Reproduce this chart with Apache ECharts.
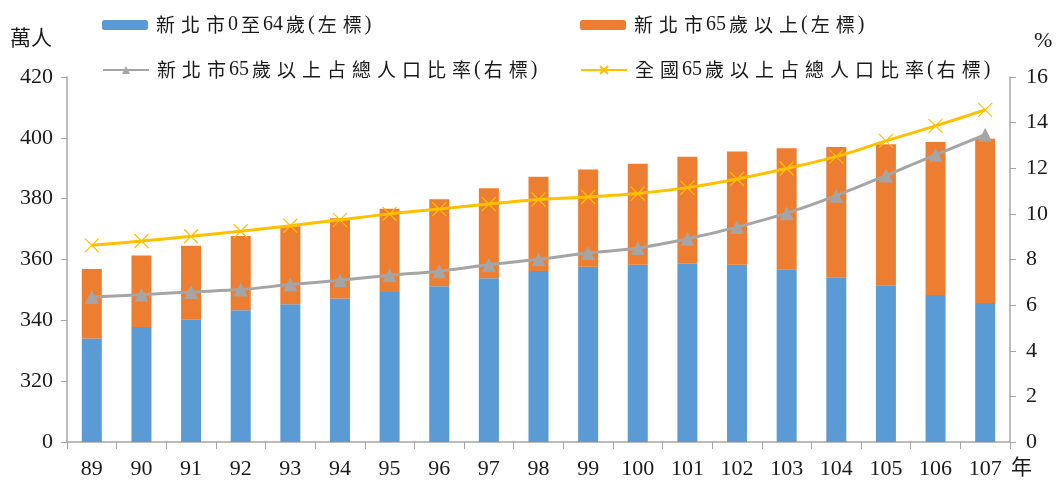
<!DOCTYPE html>
<html><head><meta charset="utf-8">
<script src="https://cdn.jsdelivr.net/npm/echarts@6/dist/echarts.min.js"></script>
<style>html,body{margin:0;padding:0;background:#fff}#c{width:1061px;height:483px}</style>
</head><body><div id="c"></div>
<script>
const years = ['89','90','91','92','93','94','95','96','97','98','99','100','101','102','103','104','105','106','107'];
const age0to64 = [334.0,337.8,340.2,343.3,345.3,347.2,349.3,351.2,353.8,356.2,357.6,358.3,358.6,358.3,356.8,354.2,351.5,348.3,345.7];
const age65plus = [22.9,23.5,24.3,24.4,25.6,26.4,27.4,28.6,29.6,31.0,32.0,33.2,35.2,37.2,39.8,42.8,46.4,50.3,54.0];
const ntpRatio = [6.36,6.46,6.58,6.68,6.90,7.09,7.31,7.49,7.77,8.01,8.28,8.50,8.91,9.42,10.03,10.80,11.68,12.59,13.47];
const nationRatio = [8.62,8.81,9.02,9.24,9.48,9.74,10.00,10.21,10.43,10.63,10.74,10.89,11.15,11.53,11.99,12.51,13.20,13.86,14.56];
const leftTicks = {min:300, max:420, interval:20};
const rightTicks = {min:0, max:16, interval:2};

const FONT = "'Liberation Serif','Noto Sans CJK TC',serif";
const TXT = '#1a1a1a';
const AX = '#a6a6a6';
const xPath = 'path://M0,0 L10,10 M10,0 L0,10';
const names = ['新北市0至64歲(左標)','新北市65歲以上(左標)','新北市65歲以上占總人口比率(右標)','全國65歲以上占總人口比率(右標)'];
const spaced = s => s.split('').map(ch => /[\u3400-\u9fff]/.test(ch) ? '{c|'+ch+'}' : '{d|'+ch+'}').join('');
const legendBase = {itemWidth:46, itemHeight:10, itemGap:0, formatter:spaced,
  textStyle:{fontFamily:FONT, fontSize:20, color:TXT,
    rich:{c:{fontFamily:"'Noto Sans CJK TC'", fontSize:19, color:TXT, padding:[0,3,0,3]},
          d:{fontFamily:"'Liberation Serif'", fontSize:20, color:TXT}}}};
const chart = echarts.init(document.getElementById('c'));
chart.setOption({
  animation:false,
  textStyle:{fontFamily:FONT},
  legend:[
    Object.assign({}, legendBase, {left:97, top:10, data:[names[0]]}),
    Object.assign({}, legendBase, {left:575, top:10, data:[names[1]]}),
    Object.assign({}, legendBase, {left:97, top:55, data:[names[2]]}),
    Object.assign({}, legendBase, {left:575, top:55, data:[names[3]]})
  ],
  grid:{left:67, right:51, top:77, bottom:41},
  graphic:[
    {type:'text', left:10, top:29, style:{text:'萬人', font:'21px '+FONT, fill:TXT}},
    {type:'text', left:1034, top:30, style:{text:'%', font:'22px '+FONT, fill:TXT}},
    {type:'text', left:1011, top:458, style:{text:'年', font:'21px '+FONT, fill:TXT}}
  ],
  xAxis:{type:'category', data:years, boundaryGap:true,
    axisLine:{lineStyle:{color:AX, width:1.5}},
    axisTick:{show:true, length:7, lineStyle:{color:AX}},
    axisLabel:{color:TXT, fontSize:22, fontFamily:FONT, margin:16, interval:0}},
  yAxis:[
    {type:'value', min:leftTicks.min, max:leftTicks.max, interval:leftTicks.interval,
     axisLine:{show:true, lineStyle:{color:AX, width:1.5}},
     axisTick:{show:true, length:6, lineStyle:{color:AX}},
     splitLine:{show:false},
     axisLabel:{color:TXT, fontSize:22, fontFamily:FONT, margin:14,
       formatter:v => v===leftTicks.min ? '0' : String(v)}},
    {type:'value', min:rightTicks.min, max:rightTicks.max, interval:rightTicks.interval,
     axisLine:{show:true, lineStyle:{color:AX, width:1.5}},
     axisTick:{show:true, length:6, lineStyle:{color:AX}},
     splitLine:{show:false},
     axisLabel:{color:TXT, fontSize:22, fontFamily:FONT, margin:16}}
  ],
  series:[
    {name:names[0], type:'bar', stack:'p', data:age0to64, barWidth:20, itemStyle:{color:'#5B9BD5'}},
    {name:names[1], type:'bar', stack:'p', data:age65plus, barWidth:20, itemStyle:{color:'#ED7D31'}},
    {name:names[2], type:'line', yAxisIndex:1, data:ntpRatio, smooth:0.3, symbol:'triangle', symbolSize:14,
     lineStyle:{color:'#A5A5A5', width:3}, itemStyle:{color:'#A5A5A5'}},
    {name:names[3], type:'line', yAxisIndex:1, data:nationRatio, smooth:0.3, symbol:xPath, symbolSize:14,
     lineStyle:{color:'#FFC000', width:3}, itemStyle:{color:'#FFC000', borderColor:'#FFC000', borderWidth:1.2}}
  ]
});
</script></body></html>
